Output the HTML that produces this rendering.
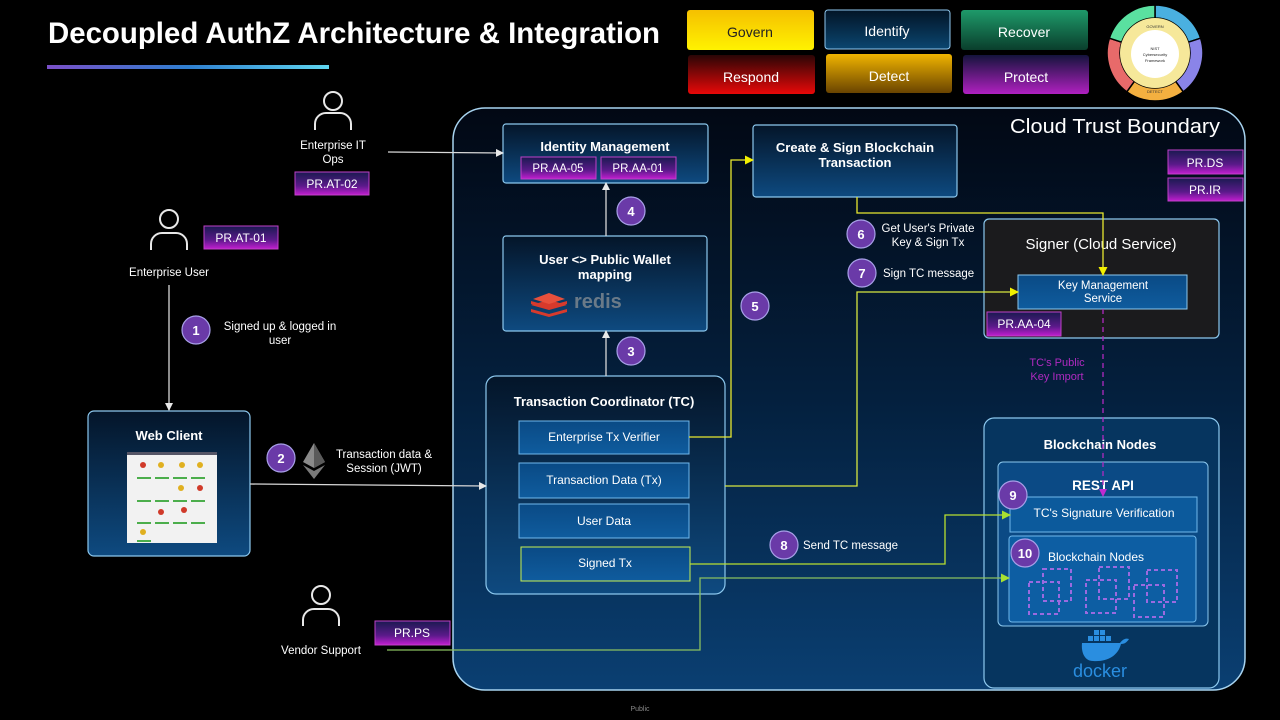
<!DOCTYPE html>
<html><head><meta charset="utf-8"><style>
html,body{margin:0;padding:0;background:#000;}
svg{display:block;}
text{font-family:"Liberation Sans",sans-serif;fill:#fff;}
</style></head><body>
<svg width="1280" height="720" viewBox="0 0 1280 720" xmlns="http://www.w3.org/2000/svg">
<defs>
<linearGradient id="bar" x1="0" x2="1"><stop offset="0" stop-color="#7a4fc8"/><stop offset="0.5" stop-color="#2f7fd0"/><stop offset="1" stop-color="#5fd6f0"/></linearGradient>
<linearGradient id="cloud" x1="0" y1="0" x2="0" y2="1"><stop offset="0" stop-color="#020814"/><stop offset="0.5" stop-color="#04203e"/><stop offset="1" stop-color="#0a3f72"/></linearGradient>
<linearGradient id="box" x1="0" y1="0" x2="0" y2="1"><stop offset="0" stop-color="#041529"/><stop offset="1" stop-color="#0e4a80"/></linearGradient>
<linearGradient id="sub" x1="0" y1="0" x2="0" y2="1"><stop offset="0" stop-color="#0a4a85"/><stop offset="1" stop-color="#0f5c9e"/></linearGradient>
<linearGradient id="chip" x1="0" y1="0" x2="0" y2="1"><stop offset="0" stop-color="#1a1a50"/><stop offset="0.6" stop-color="#5a1a8a"/><stop offset="1" stop-color="#c21ed0"/></linearGradient>
<linearGradient id="gov" x1="0" y1="0" x2="0" y2="1"><stop offset="0" stop-color="#f5c000"/><stop offset="1" stop-color="#fff200"/></linearGradient>
<linearGradient id="idf" x1="0" y1="0" x2="0" y2="1"><stop offset="0" stop-color="#021426"/><stop offset="1" stop-color="#0b4670"/></linearGradient>
<linearGradient id="rec" x1="0" y1="0" x2="0" y2="1"><stop offset="0" stop-color="#1e9a6a"/><stop offset="1" stop-color="#0a3e2c"/></linearGradient>
<linearGradient id="resp" x1="0" y1="0" x2="0" y2="1"><stop offset="0" stop-color="#2a0606"/><stop offset="1" stop-color="#e80808"/></linearGradient>
<linearGradient id="det" x1="0" y1="0" x2="0" y2="1"><stop offset="0" stop-color="#f0b400"/><stop offset="1" stop-color="#6a4400"/></linearGradient>
<linearGradient id="prot" x1="0" y1="0" x2="0" y2="1"><stop offset="0" stop-color="#14143c"/><stop offset="1" stop-color="#b020c0"/></linearGradient>
<marker id="aw" markerWidth="8" markerHeight="8" refX="7" refY="4" orient="auto" markerUnits="userSpaceOnUse"><path d="M0,0 L8,4 L0,8 z" fill="#e8e8e8"/></marker>
<marker id="ay" markerWidth="9" markerHeight="9" refX="8" refY="4.5" orient="auto" markerUnits="userSpaceOnUse"><path d="M0,0 L9,4.5 L0,9 z" fill="#f2f000"/></marker>
<marker id="ag" markerWidth="9" markerHeight="9" refX="8" refY="4.5" orient="auto" markerUnits="userSpaceOnUse"><path d="M0,0 L9,4.5 L0,9 z" fill="#a8e030"/></marker>
<marker id="am" markerWidth="8" markerHeight="8" refX="7" refY="4" orient="auto" markerUnits="userSpaceOnUse"><path d="M0,0 L8,4 L0,8 z" fill="#c02ad0"/></marker>
</defs>

<!-- Title -->
<text x="48" y="43" font-size="30" font-weight="bold" textLength="612" lengthAdjust="spacingAndGlyphs">Decoupled AuthZ Architecture &amp; Integration</text>
<rect x="47" y="65" width="282" height="4" fill="url(#bar)"/>

<!-- legend -->
<rect x="687" y="10" width="127" height="40" rx="3" fill="url(#gov)"/>
<text x="750" y="37" font-size="14" text-anchor="middle" style="fill:#222">Govern</text>
<rect x="825" y="10" width="125" height="39" rx="3" fill="url(#idf)" stroke="#8fc8f0" stroke-width="1"/>
<text x="887" y="36" font-size="14" text-anchor="middle">Identify</text>
<rect x="961" y="10" width="127" height="40" rx="3" fill="url(#rec)"/>
<text x="1024" y="37" font-size="14" text-anchor="middle">Recover</text>
<rect x="688" y="55" width="127" height="39" rx="3" fill="url(#resp)"/>
<text x="751" y="82" font-size="14" text-anchor="middle">Respond</text>
<rect x="826" y="54" width="126" height="39" rx="3" fill="url(#det)"/>
<text x="889" y="81" font-size="14" text-anchor="middle">Detect</text>
<rect x="963" y="55" width="126" height="39" rx="3" fill="url(#prot)"/>
<text x="1026" y="82" font-size="14" text-anchor="middle">Protect</text>

<!-- NIST wheel -->
<g stroke="#000" stroke-width="1.5">
<path d="M1155,5 A48,48 0 0 1 1200.6,38.2 L1188.3,42.2 A35,35 0 0 0 1155,18 Z" fill="#4ab0e0"/>
<path d="M1200.6,38.2 A48,48 0 0 1 1183.2,91.8 L1175.6,81.3 A35,35 0 0 0 1188.3,42.2 Z" fill="#8a84e8"/>
<path d="M1183.2,91.8 A48,48 0 0 1 1126.8,91.8 L1134.4,81.3 A35,35 0 0 0 1175.6,81.3 Z" fill="#f4b040"/>
<path d="M1126.8,91.8 A48,48 0 0 1 1109.4,38.2 L1121.7,42.2 A35,35 0 0 0 1134.4,81.3 Z" fill="#e86a6a"/>
<path d="M1109.4,38.2 A48,48 0 0 1 1155,5 L1155,18 A35,35 0 0 0 1121.7,42.2 Z" fill="#5ae0a0"/>
</g>
<circle cx="1155" cy="53" r="35" fill="#f6e89a"/>
<circle cx="1155" cy="54" r="24" fill="#fff"/>
<text x="1155" y="50" font-size="4" text-anchor="middle" style="fill:#222">NIST</text>
<text x="1155" y="56" font-size="4" text-anchor="middle" style="fill:#222">Cybersecurity</text>
<text x="1155" y="62" font-size="4" text-anchor="middle" style="fill:#222">Framework</text>
<text x="1155" y="28" font-size="4" text-anchor="middle" style="fill:#333">GOVERN</text>
<text x="1155" y="93" font-size="4" text-anchor="middle" style="fill:#333">DETECT</text>

<!-- cloud boundary -->
<rect x="453" y="108" width="792" height="582" rx="32" fill="url(#cloud)" stroke="#a8d4f0" stroke-width="1.5"/>
<text x="1220" y="133" font-size="20" text-anchor="end" textLength="210" lengthAdjust="spacingAndGlyphs">Cloud Trust Boundary</text>
<rect x="1168" y="150" width="75" height="24" fill="url(#chip)" stroke="#c040c8"/>
<text x="1205" y="167" font-size="12" text-anchor="middle">PR.DS</text>
<rect x="1168" y="178" width="75" height="23" fill="url(#chip)" stroke="#c040c8"/>
<text x="1205" y="194" font-size="12" text-anchor="middle">PR.IR</text>

<!-- Identity Management -->
<rect x="503" y="124" width="205" height="59" rx="3" fill="url(#box)" stroke="#8cc8ee" stroke-width="1.2"/>
<text x="605" y="151" font-size="13" text-anchor="middle" font-weight="bold">Identity Management</text>
<rect x="521" y="157" width="75" height="22" fill="url(#chip)" stroke="#c040c8"/>
<text x="558" y="172" font-size="11.5" text-anchor="middle">PR.AA-05</text>
<rect x="601" y="157" width="75" height="22" fill="url(#chip)" stroke="#c040c8"/>
<text x="638" y="172" font-size="11.5" text-anchor="middle">PR.AA-01</text>

<!-- Create & Sign -->
<rect x="753" y="125" width="204" height="72" rx="3" fill="url(#box)" stroke="#8cc8ee" stroke-width="1.2"/>
<text x="855" y="152" font-size="13" text-anchor="middle" font-weight="bold">Create &amp; Sign Blockchain</text>
<text x="855" y="167" font-size="13" text-anchor="middle" font-weight="bold">Transaction</text>

<!-- Wallet mapping -->
<rect x="503" y="236" width="204" height="95" rx="3" fill="url(#box)" stroke="#8cc8ee" stroke-width="1.2"/>
<text x="605" y="264" font-size="13" text-anchor="middle" font-weight="bold">User &lt;&gt; Public Wallet</text>
<text x="605" y="279" font-size="13" text-anchor="middle" font-weight="bold">mapping</text>
<g fill="#d83a2c">
<path d="M531,305 l18,-5 l18,5 l-18,5 z"/><path d="M531,309 l18,5 l18,-5 v3 l-18,5 l-18,-5 z"/><path d="M531,301 l18,5 l18,-5 v3 l-18,5 l-18,-5 z"/>
<path d="M533,299 l16,-6 l16,6 l-16,5 z" fill="#e8503c"/>
</g>
<text x="574" y="308" font-size="20" font-weight="bold" style="fill:#6a7a88">redis</text>

<!-- TC -->
<rect x="486" y="376" width="239" height="218" rx="10" fill="url(#box)" stroke="#8cc8ee" stroke-width="1.2"/>
<text x="604" y="406" font-size="13" text-anchor="middle" font-weight="bold">Transaction Coordinator (TC)</text>
<rect x="519" y="421" width="170" height="33" fill="url(#sub)" stroke="#70b8ec"/>
<text x="604" y="441" font-size="12" text-anchor="middle">Enterprise Tx Verifier</text>
<rect x="519" y="463" width="170" height="35" fill="url(#sub)" stroke="#70b8ec"/>
<text x="604" y="484" font-size="12" text-anchor="middle">Transaction Data (Tx)</text>
<rect x="519" y="504" width="170" height="34" fill="url(#sub)" stroke="#70b8ec"/>
<text x="604" y="525" font-size="12" text-anchor="middle">User Data</text>
<rect x="521" y="547" width="169" height="34" fill="url(#sub)" stroke="#c8f050"/>
<text x="605" y="567" font-size="12" text-anchor="middle">Signed Tx</text>

<!-- Signer -->
<rect x="984" y="219" width="235" height="119" rx="5" fill="#1b1b1d" stroke="#8cc8ee" stroke-width="1.2"/>
<text x="1101" y="249" font-size="15" text-anchor="middle">Signer (Cloud Service)</text>
<rect x="1018" y="275" width="169" height="34" fill="url(#sub)" stroke="#8cc8ee"/>
<text x="1103" y="289" font-size="11.5" text-anchor="middle">Key Management</text>
<text x="1103" y="302" font-size="11.5" text-anchor="middle">Service</text>
<rect x="987" y="312" width="74" height="24" fill="url(#chip)" stroke="#c040c8"/>
<text x="1024" y="328" font-size="12" text-anchor="middle">PR.AA-04</text>

<!-- Blockchain nodes -->
<rect x="984" y="418" width="235" height="270" rx="10" fill="#06355f" stroke="#8cc8ee" stroke-width="1.2"/>
<text x="1100" y="449" font-size="13" text-anchor="middle" font-weight="bold">Blockchain Nodes</text>
<rect x="998" y="462" width="210" height="164" rx="5" fill="#0b4a85" stroke="#8cc8ee"/>
<text x="1103" y="490" font-size="13.5" text-anchor="middle" font-weight="bold">REST API</text>
<rect x="1010" y="497" width="187" height="35" fill="#0c5a9c" stroke="#70b8ec"/>
<text x="1104" y="517" font-size="12" text-anchor="middle">TC's Signature Verification</text>
<rect x="1009" y="536" width="187" height="86" rx="3" fill="#0d5ea3" stroke="#70b8ec"/>
<text x="1096" y="561" font-size="12" text-anchor="middle">Blockchain Nodes</text>
<g fill="none" stroke="#9a6ae0" stroke-width="2" stroke-dasharray="4,3">
<rect x="1043" y="569" width="28" height="32"/><rect x="1029" y="582" width="30" height="32"/>
<rect x="1099" y="567" width="30" height="32"/><rect x="1086" y="580" width="30" height="33"/>
<rect x="1147" y="570" width="30" height="32"/><rect x="1134" y="585" width="30" height="32"/>
</g>
<!-- docker -->
<g fill="#2a8ee0">
<path d="M1082,643 h38 c3,-4 6,-5 9,-4 c-2,3 -4,5 -8,5 c-3,12 -14,18 -28,17 c-8,0 -12,-8 -11,-18 z"/>
<rect x="1088" y="636" width="5" height="5"/><rect x="1094" y="636" width="5" height="5"/><rect x="1100" y="636" width="5" height="5"/><rect x="1106" y="636" width="5" height="5"/>
<rect x="1094" y="630" width="5" height="5"/><rect x="1100" y="630" width="5" height="5"/>
</g>
<text x="1100" y="677" font-size="18" text-anchor="middle" style="fill:#2a8ee0">docker</text>

<!-- Web client -->
<rect x="88" y="411" width="162" height="145" rx="6" fill="url(#box)" stroke="#8cc8ee" stroke-width="1.2"/>
<text x="169" y="440" font-size="13" text-anchor="middle" font-weight="bold">Web Client</text>
<rect x="127" y="452" width="90" height="91" fill="#f2f2f2"/>
<rect x="127" y="452" width="90" height="3" fill="#556"/>
<g fill="#d03a2a"><circle cx="143" cy="465" r="3"/><circle cx="200" cy="488" r="3"/><circle cx="161" cy="512" r="3"/><circle cx="184" cy="510" r="3"/></g>
<g fill="#e0b020"><circle cx="161" cy="465" r="3"/><circle cx="182" cy="465" r="3"/><circle cx="200" cy="465" r="3"/><circle cx="181" cy="488" r="3"/><circle cx="143" cy="532" r="3"/></g>
<g fill="#4cae4c"><rect x="137" y="477" width="14" height="2"/><rect x="155" y="477" width="14" height="2"/><rect x="173" y="477" width="14" height="2"/><rect x="191" y="477" width="14" height="2"/>
<rect x="137" y="500" width="14" height="2"/><rect x="155" y="500" width="14" height="2"/><rect x="173" y="500" width="14" height="2"/><rect x="191" y="500" width="14" height="2"/>
<rect x="137" y="522" width="14" height="2"/><rect x="155" y="522" width="14" height="2"/><rect x="173" y="522" width="14" height="2"/><rect x="191" y="522" width="14" height="2"/><rect x="137" y="540" width="14" height="2"/></g>

<!-- Persons -->
<g fill="none" stroke="#e8e8e8" stroke-width="2">
<circle cx="333" cy="101" r="9"/><path d="M315,130 v-6 a11,11 0 0 1 11,-11 h14 a11,11 0 0 1 11,11 v6"/>
<circle cx="169" cy="219" r="9"/><path d="M151,250 v-6 a11,11 0 0 1 11,-11 h14 a11,11 0 0 1 11,11 v6"/>
<circle cx="321" cy="595" r="9"/><path d="M303,626 v-6 a11,11 0 0 1 11,-11 h14 a11,11 0 0 1 11,11 v6"/>
</g>
<text x="333" y="149" font-size="11.5" text-anchor="middle">Enterprise IT</text>
<text x="333" y="163" font-size="11.5" text-anchor="middle">Ops</text>
<rect x="295" y="172" width="74" height="23" fill="url(#chip)" stroke="#c040c8"/>
<text x="332" y="188" font-size="12" text-anchor="middle">PR.AT-02</text>
<text x="169" y="276" font-size="11.5" text-anchor="middle">Enterprise User</text>
<rect x="204" y="226" width="74" height="23" fill="url(#chip)" stroke="#c040c8"/>
<text x="241" y="242" font-size="12" text-anchor="middle">PR.AT-01</text>
<text x="321" y="654" font-size="11.5" text-anchor="middle">Vendor Support</text>
<rect x="375" y="621" width="75" height="24" fill="url(#chip)" stroke="#c040c8"/>
<text x="412" y="637" font-size="12" text-anchor="middle">PR.PS</text>

<!-- connectors -->
<g fill="none" stroke-width="1.3">
<path d="M388,152 L503,153" stroke="#d8d8d8" marker-end="url(#aw)"/>
<path d="M169,285 L169,410" stroke="#d8d8d8" marker-end="url(#aw)"/>
<path d="M250,484 L486,486" stroke="#d8d8d8" marker-end="url(#aw)"/>
<path d="M606,376 L606,331" stroke="#d8d8d8" marker-end="url(#aw)"/>
<path d="M606,236 L606,183" stroke="#d8d8d8" marker-end="url(#aw)"/>
<path d="M689,437 H731 V160 H753" stroke="#e8e830" marker-end="url(#ay)"/>
<path d="M857,197 V213 H1103 V275" stroke="#e8e830" marker-end="url(#ay)"/>
<path d="M725,486 H857 V292 H1018" stroke="#d8e840" marker-end="url(#ay)"/>
<path d="M690,564 H945 V515 H1010" stroke="#b8e030" marker-end="url(#ag)"/>
<path d="M387,650 H700 V578 H1009" stroke="#8ac060" marker-end="url(#ag)"/>
<path d="M1103,309 V496" stroke="#b02ac0" stroke-dasharray="5,4" marker-end="url(#am)"/>
</g>
<text x="1057" y="366" font-size="11" text-anchor="middle" style="fill:#b02ac0">TC's Public</text>
<text x="1057" y="380" font-size="11" text-anchor="middle" style="fill:#b02ac0">Key Import</text>

<!-- Ethereum -->
<g><path d="M314,443 L303,462 L314,468 L325,462 Z" fill="#8a8a8a"/><path d="M314,443 L314,468 L325,462 Z" fill="#5a5a5a"/><path d="M303,465 L314,479 L325,465 L314,471 Z" fill="#7a7a7a"/></g>

<!-- step labels -->
<text x="280" y="330" font-size="11.5" text-anchor="middle">Signed up &amp; logged in</text>
<text x="280" y="344" font-size="11.5" text-anchor="middle">user</text>
<text x="384" y="458" font-size="11.5" text-anchor="middle">Transaction data &amp;</text>
<text x="384" y="472" font-size="11.5" text-anchor="middle">Session (JWT)</text>
<text x="928" y="232" font-size="11.5" text-anchor="middle">Get User's Private</text>
<text x="928" y="246" font-size="11.5" text-anchor="middle">Key &amp; Sign Tx</text>
<text x="883" y="277" font-size="11.5">Sign TC message</text>
<text x="803" y="549" font-size="11.5">Send TC message</text>

<!-- circles -->
<g fill="#6a3aa8" stroke="#a8a0e8" stroke-width="1.2">
<circle cx="196" cy="330" r="14"/><circle cx="281" cy="458" r="14"/><circle cx="631" cy="351" r="14"/><circle cx="631" cy="211" r="14"/>
<circle cx="755" cy="306" r="14"/><circle cx="861" cy="234" r="14"/><circle cx="862" cy="273" r="14"/><circle cx="784" cy="545" r="14"/>
<circle cx="1013" cy="495" r="14"/><circle cx="1025" cy="553" r="14"/>
</g>
<g font-size="13" text-anchor="middle" font-weight="bold">
<text x="196" y="335">1</text><text x="281" y="463">2</text><text x="631" y="356">3</text><text x="631" y="216">4</text>
<text x="755" y="311">5</text><text x="861" y="239">6</text><text x="862" y="278">7</text><text x="784" y="550">8</text>
<text x="1013" y="500">9</text><text x="1025" y="558">10</text>
</g>

<text x="640" y="711" font-size="7" text-anchor="middle" style="fill:#888">Public</text>
</svg>
</body></html>
